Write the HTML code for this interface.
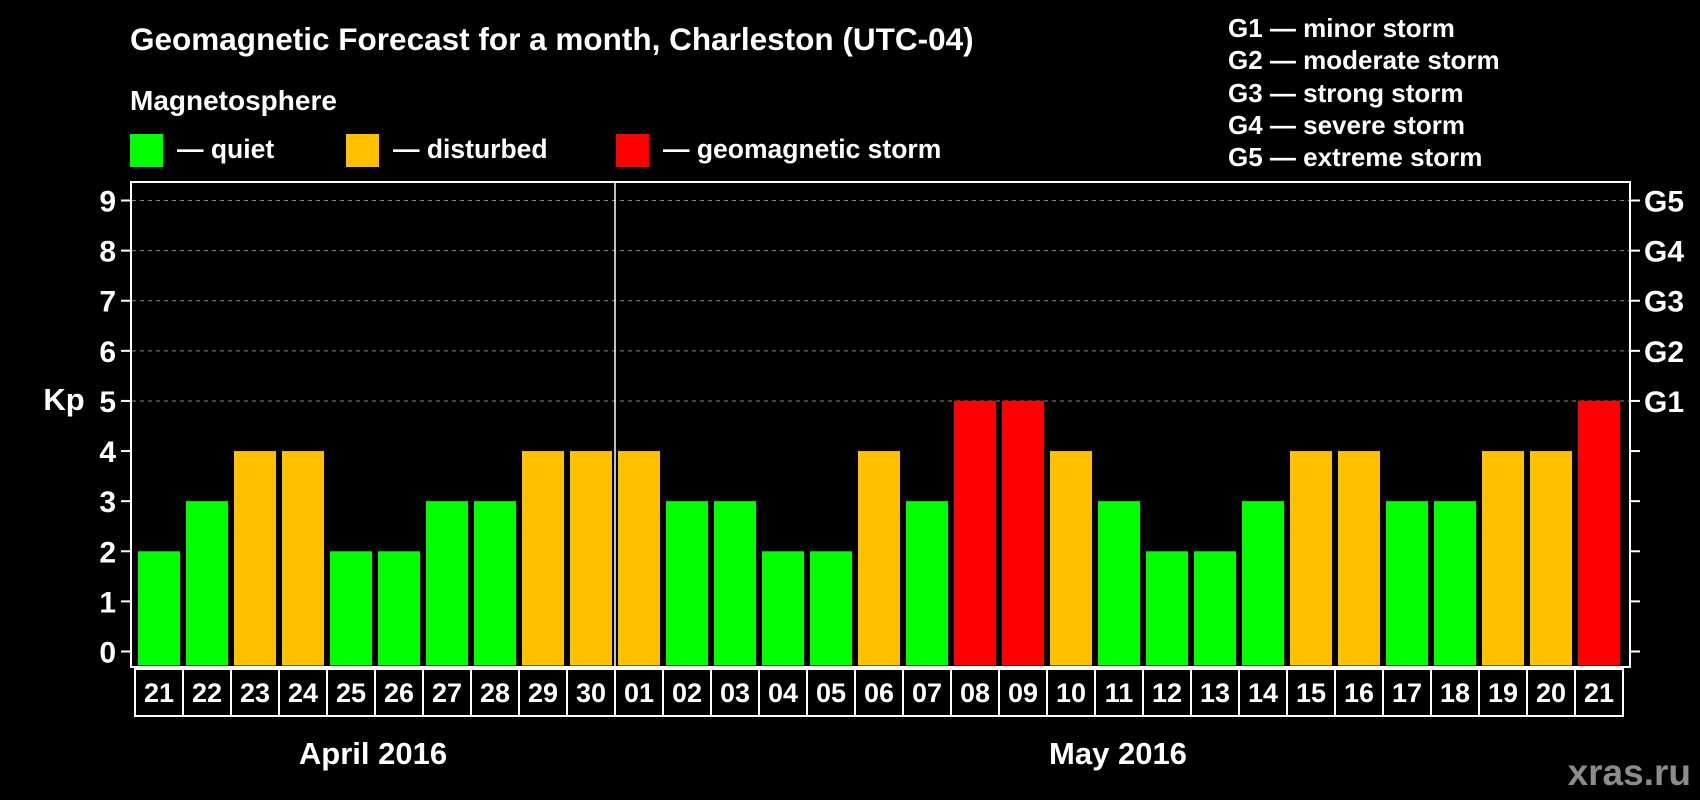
<!DOCTYPE html>
<html><head><meta charset="utf-8"><style>
body{margin:0;background:#000;width:1700px;height:800px;overflow:hidden}
svg{display:block;font-family:"Liberation Sans",Arial,sans-serif;font-weight:bold}
</style></head><body>
<svg id="c" width="1700" height="800">
<text x="130" y="50" fill="#fff" font-size="31.5">Geomagnetic Forecast for a month, Charleston (UTC-04)</text>
<text x="130" y="110" fill="#fff" font-size="28">Magnetosphere</text>
<g><rect x="130" y="134" width="33" height="33" fill="#00ff00"/><text x="177" y="158" fill="#fff" font-size="26.5">— quiet</text></g>
<g><rect x="346" y="134" width="33" height="33" fill="#ffc000"/><text x="393" y="158" fill="#fff" font-size="26.5">— disturbed</text></g>
<g><rect x="616" y="134" width="33" height="33" fill="#ff0000"/><text x="663" y="158" fill="#fff" font-size="26.5">— geomagnetic storm</text></g>
<g fill="#fff" font-size="26">
<text x="1228" y="37">G1 — minor storm</text>
<text x="1228" y="69">G2 — moderate storm</text>
<text x="1228" y="102">G3 — strong storm</text>
<text x="1228" y="134">G4 — severe storm</text>
<text x="1228" y="166">G5 — extreme storm</text>
</g>
<text x="64" y="410" fill="#fff" font-size="31" text-anchor="middle">Kp</text>
<text x="373" y="764" fill="#fff" font-size="31" text-anchor="middle">April 2016</text>
<text x="1118" y="764" fill="#fff" font-size="31" text-anchor="middle">May 2016</text>
<text x="1691" y="785" fill="#8c8c8c" font-size="37" text-anchor="end">xras.ru</text>
<g id="plot"></g>
</svg>
<script>
const days=["21","22","23","24","25","26","27","28","29","30","01","02","03","04","05","06","07","08","09","10","11","12","13","14","15","16","17","18","19","20","21"];
const kp=[2,3,4,4,2,2,3,3,4,4,4,3,3,2,2,4,3,5,5,4,3,2,2,3,4,4,3,3,4,4,5];
const yTicks=[0,1,2,3,4,5,6,7,8,9];
const gLabels=["G1","G2","G3","G4","G5"];
const NS="http://www.w3.org/2000/svg";
const g=document.getElementById('plot');
const x0=138,step=48,bw=42,yBase=651.5,unit=(651.5-200.5)/9;
const y=v=>yBase-v*unit;
const xb=i=>x0+i*step;
function mk(t,a,txt){const e=document.createElementNS(NS,t);for(const k in a)e.setAttribute(k,a[k]);if(txt!==undefined)e.textContent=txt;g.appendChild(e);return e;}
yTicks.forEach(v=>{
 if(v>=5){const l=mk('line',{x1:132,x2:1629,y1:y(v),y2:y(v),stroke:'#888','stroke-width':1,'stroke-dasharray':'4,4'});
 
 }
 const t=mk('line',{x1:121,x2:131,y1:y(v),y2:y(v),stroke:'#fff','stroke-width':2});
 
 
 const t2=mk('line',{x1:1630,x2:1640,y1:y(v),y2:y(v),stroke:'#fff','stroke-width':2});
 
 
 const lb=mk('text',{x:116,y:y(v)+11,fill:'#fff','font-size':30,'text-anchor':'end'},String(v));
 
 
});
gLabels.forEach((s,i)=>{
 const lb=mk('text',{x:1644,y:y(5+i)+11,fill:'#fff','font-size':30},s);
 
 
});
kp.forEach((v,i)=>{
 const c=v>=5?'#ff0000':v>=4?'#ffc000':'#00ff00';
 const r=mk('rect',{x:xb(i),y:y(v),width:bw,height:v*unit+14,fill:c});
 
 
});
const box=mk('rect',{x:131,y:182,width:1499,height:485,fill:'none',stroke:'#fff','stroke-width':2});


const div=mk('line',{x1:615,x2:615,y1:182,y2:667,stroke:'#fff','stroke-width':1.5});


days.forEach((d,i)=>{
 const r=mk('rect',{x:135+i*step,y:669,width:step,height:47,fill:'none',stroke:'#fff','stroke-width':2});
 
 
 const t=mk('text',{x:135+i*step+step/2,y:702,fill:'#fff','font-size':27,'text-anchor':'middle'},d);
 
 
});
</script>
</body></html>
